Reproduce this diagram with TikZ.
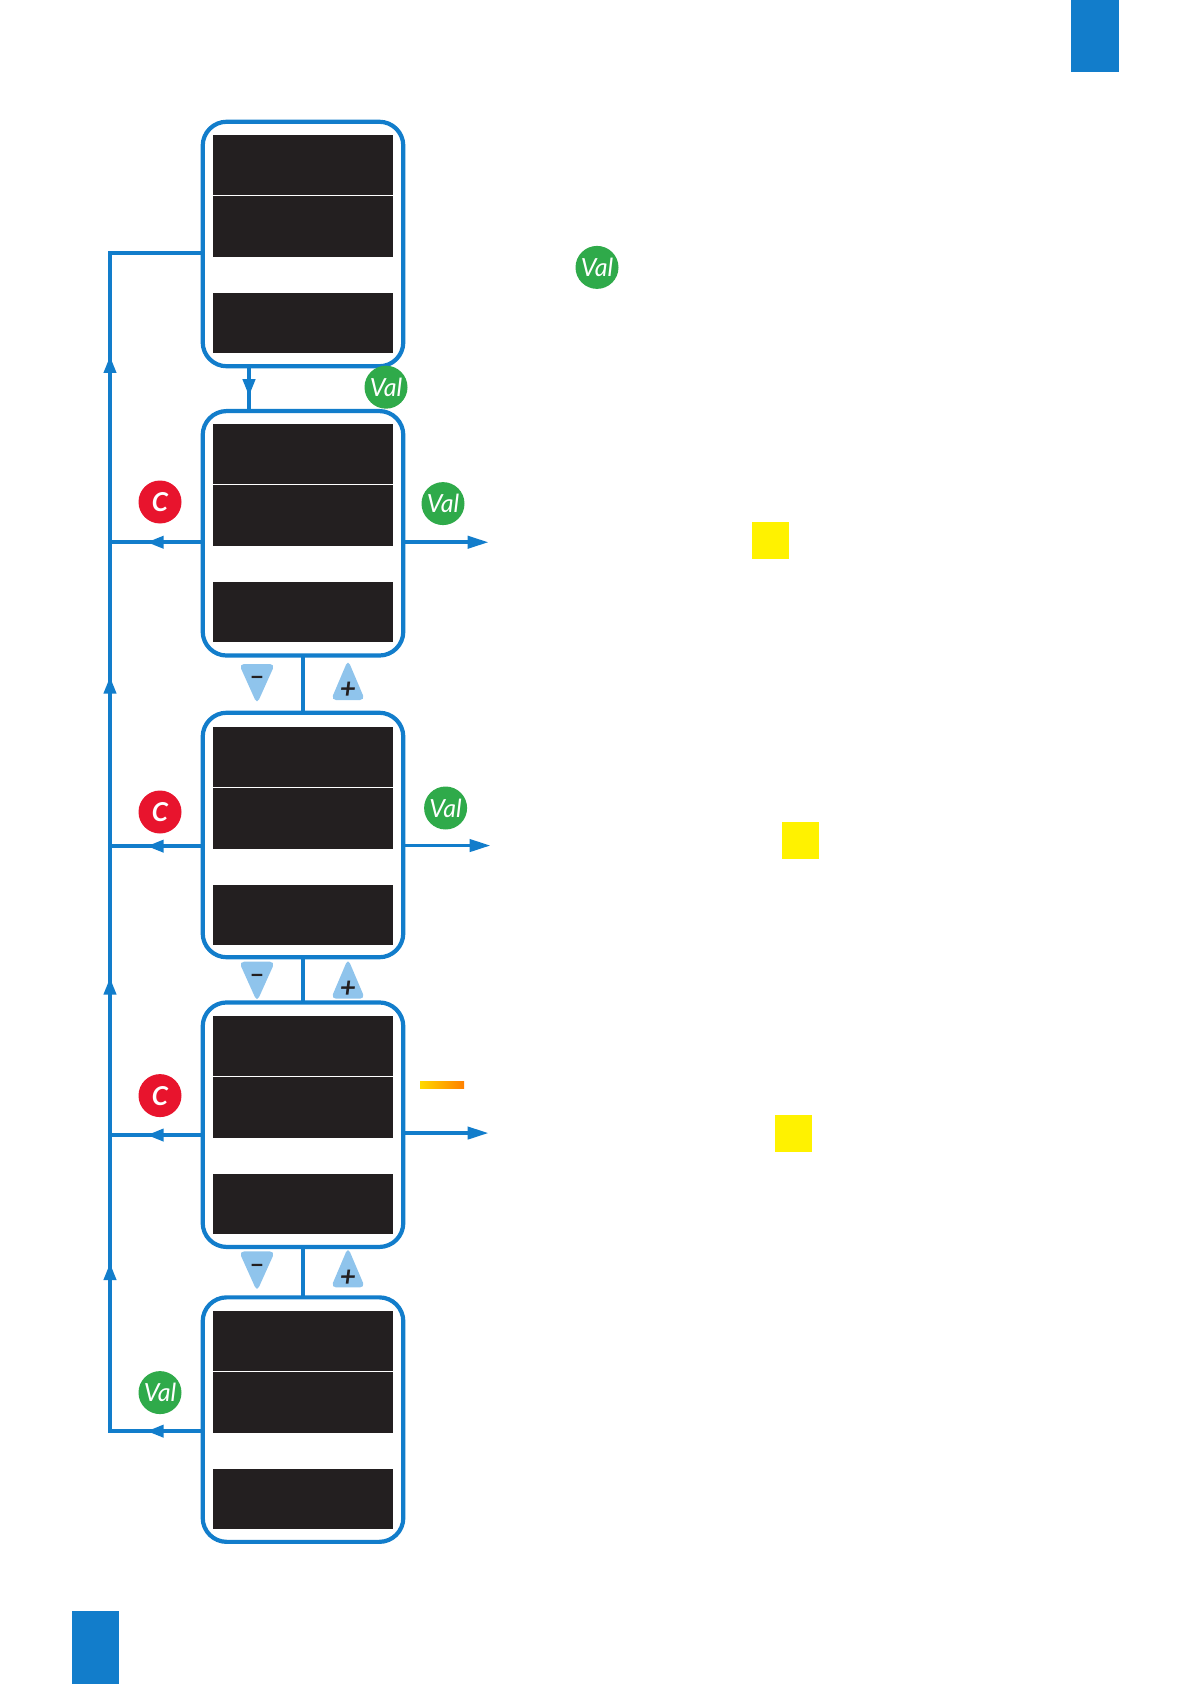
\documentclass[tikz,border=0pt]{standalone}
\usepackage{fontspec}
\setmainfont{Lato}
\usetikzlibrary{shapes.geometric, arrows.meta, positioning}
\definecolor{myblue}{RGB}{18,125,203}
\definecolor{mydark}{RGB}{35,31,32}
\definecolor{mygreen}{RGB}{47,170,74}
\definecolor{myred}{RGB}{232,20,45}
\definecolor{hdrblue}{RGB}{143,196,236}
\definecolor{myyellow}{RGB}{255,242,0}
\newcommand{\minusmark}{\smash{\raisebox{-7.4pt}{−}}}
\tikzset{
  panel/.style={rectangle, draw=myblue, fill=white, minimum width=100.3pt,
    minimum height=122.25pt, rounded corners=12pt, line width=2.1pt, outer sep=0pt},
  screen/.style={rectangle, fill=mydark, minimum width=90pt,
    minimum height=30pt, inner sep=0pt, outer sep=0pt},
  tallscreen/.style={screen, minimum height=30.6pt},
  valbtn/.style={circle, fill=mygreen, text=white, minimum size=21.5pt, inner sep=0pt,
    font=\fontsize{12.5}{12.5}\selectfont\itshape},
  cbtn/.style={circle, fill=myred, text=white, minimum size=21.5pt, inner sep=0pt,
    font=\fontsize{13}{13}\selectfont\bfseries\itshape},
  minusbtn/.style={isosceles triangle, isosceles triangle stretches, shape border rotate=-90,
    fill=hdrblue, minimum width=18pt, minimum height=20pt, inner sep=0pt,
    rounded corners=2.5pt, text=mydark, font=\fontsize{12}{12}\selectfont\bfseries},
  plusbtn/.style={isosceles triangle, isosceles triangle stretches, shape border rotate=90,
    fill=hdrblue, minimum width=17pt, minimum height=20pt, inner sep=0pt,
    rounded corners=2.5pt, text=mydark, font=\fontsize{14}{14}\selectfont\bfseries\itshape},
  marker/.style={rectangle, fill=myyellow, minimum size=18.5pt, inner sep=0pt},
  tab/.style={rectangle, fill=myblue, inner sep=0pt},
  wire/.style={draw=myblue, line width=1.9pt},
  arrow/.style={wire, -{Triangle[length=8.5pt,width=6pt]}},
  longarrow/.style={wire, -{Triangle[length=10.5pt,width=6pt]}},
  railarrow/.style={wire, -{Triangle[length=8.5pt,width=6pt]}}
}
\begin{document}
\begin{tikzpicture}[x=1pt, y=1pt]
  \useasboundingbox (0,0) rectangle (595.5,-842);
  % page tabs
  \node[tab, minimum width=24pt, minimum height=36pt] (tabtop) at (547.5,-18) {};
  \node[tab, minimum width=23.5pt, minimum height=36.5pt] (tabbottom) at (47.75,-823.75) {};
  % panels
  \node[panel] (p1) at (151.5,-122) {};
  \node[panel, below=22.4pt of p1] (p2) {};
  \node[panel, below=28.6pt of p2] (p3) {};
  \node[panel, below=22.6pt of p3] (p4) {};
  \node[panel, below=25.2pt of p4] (p5) {};
  \node[screen, below=6.7pt of p1.north] (s1a) {};
  \node[tallscreen, below=0.5pt of s1a] (s1b) {};
  \node[screen, below=17.6pt of s1b] (s1c) {};
  \node[screen, below=6.6pt of p2.north] (s2a) {};
  \node[tallscreen, below=0.5pt of s2a] (s2b) {};
  \node[screen, below=17.6pt of s2b] (s2c) {};
  \node[screen, below=7pt of p3.north] (s3a) {};
  \node[tallscreen, below=0.5pt of s3a] (s3b) {};
  \node[screen, below=18.1pt of s3b] (s3c) {};
  \node[screen, below=6.8pt of p4.north] (s4a) {};
  \node[tallscreen, below=0.5pt of s4a] (s4b) {};
  \node[screen, below=18.1pt of s4b] (s4c) {};
  \node[screen, below=6.8pt of p5.north] (s5a) {};
  \node[tallscreen, below=0.5pt of s5a] (s5b) {};
  \node[screen, below=18.1pt of s5b] (s5c) {};
  % branch points
  \coordinate (rail) at (55,0);
  \coordinate (l1) at ([yshift=-65.5pt]p1.north west);
  \coordinate (l2) at ([yshift=-65.6pt]p2.north west);
  \coordinate (l3) at ([yshift=-66.7pt]p3.north west);
  \coordinate (l4) at ([yshift=-66.3pt]p4.north west);
  \coordinate (l5) at ([yshift=-66.9pt]p5.north west);
  \coordinate (e2) at ([yshift=-65.6pt]p2.north east);
  \coordinate (e3) at ([yshift=-66.4pt]p3.north east);
  \coordinate (e4) at ([yshift=-65.3pt]p4.north east);
  \coordinate (u1) at (55,-178);
  \coordinate (u2) at (55,-338.3);
  \coordinate (u3) at (55,-488.8);
  \coordinate (u4) at (55,-631.5);
  % connectors
  \draw[wire] (l1) -- (rail |- l1) -- (rail |- l5) -- (l5);
  \draw[railarrow] ([yshift=-10pt]u1) -- (u1);
  \draw[railarrow] ([yshift=-10pt]u2) -- (u2);
  \draw[railarrow] ([yshift=-10pt]u3) -- (u3);
  \draw[railarrow] ([yshift=-10pt]u4) -- (u4);
  \draw[wire] (l2) -- (rail |- l2);
  \draw[wire] (l3) -- (rail |- l3);
  \draw[wire] (l4) -- (rail |- l4);
  \draw[arrow] (l2) -- ([xshift=-28pt]l2);
  \draw[arrow] (l3) -- ([xshift=-28pt]l3);
  \draw[arrow] (l4) -- ([xshift=-28pt]l4);
  \draw[arrow] (l5) -- ([xshift=-28pt]l5);
  \draw[longarrow] (e2) -- ([xshift=42.7pt]e2);
  \draw[longarrow] (e3) -- ([xshift=43.7pt]e3);
  \draw[longarrow] (e4) -- ([xshift=42.7pt]e4);
  \draw[wire] ([xshift=-27pt]p1.south) -- ([xshift=-27pt]p2.north);
  \draw[arrow] ([xshift=-27pt]p1.south) -- ([xshift=-27pt,yshift=-15pt]p1.south);
  \draw[wire] (p2) -- (p3);
  \draw[wire] (p3) -- (p4);
  \draw[wire] (p4) -- (p5);
  % buttons
  \node[valbtn] (v0) at (298.5,-133.7) {Val};
  \node[valbtn] (v1) at (193,-193.6) {Val};
  \node[valbtn] (v2) at (221.5,-251.8) {Val};
  \node[valbtn] (v3) at (222.8,-404) {Val};
  \node[valbtn] (v5) at (80,-696.3) {Val};
  \node[cbtn] (c2) at (80,-251) {C};
  \node[cbtn] (c3) at (80,-406) {C};
  \node[cbtn] (c4) at (80,-547.8) {C};
  \node[minusbtn] (m2) at ([xshift=-23pt,yshift=-7.8pt]p2.south) {\minusmark};
  \node[plusbtn] (a2) at ([xshift=22.5pt,yshift=-17.5pt]p2.south) {+};
  \node[minusbtn] (m3) at ([xshift=-23pt,yshift=-5.8pt]p3.south) {\minusmark};
  \node[plusbtn] (a3) at ([xshift=22.5pt,yshift=-16pt]p3.south) {+};
  \node[minusbtn] (m4) at ([xshift=-23pt,yshift=-5.8pt]p4.south) {\minusmark};
  \node[plusbtn] (a4) at ([xshift=22.5pt,yshift=-15.5pt]p4.south) {+};
  % side marks
  \node[marker] (y2) at (385.2,-270.4) {};
  \node[marker] (y3) at (400.2,-420.2) {};
  \node[marker] (y4) at (396.5,-566.7) {};
  \node[rectangle, left color=yellow!70!orange, right color=orange, minimum width=22pt,
    minimum height=3.6pt, inner sep=0pt] (bar4) at (221,-542.3) {};
\end{tikzpicture}
\end{document}
